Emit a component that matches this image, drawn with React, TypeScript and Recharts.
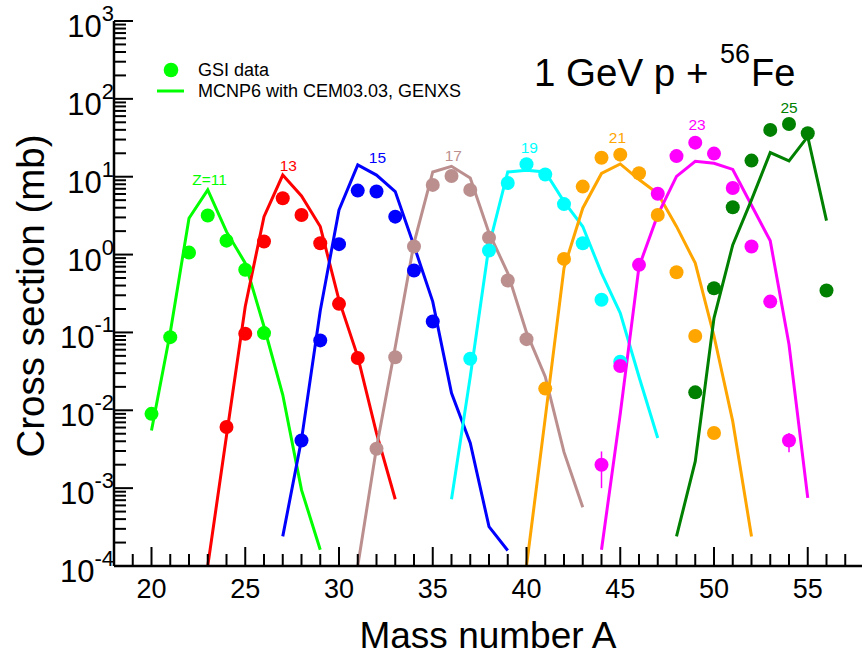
import React from 'react';
import { ComposedChart, Line, Scatter, XAxis, YAxis, ErrorBar } from 'recharts';

type Pt = { A: number; v: number; err?: [number, number] };

const FONT = '"Liberation Sans", Arial, Helvetica, sans-serif';

// Axis ticks
const massTicks = [18, 19, 20, 21, 22, 23, 24, 25, 26, 27, 28, 29, 30, 31, 32, 33, 34, 35, 36, 37, 38, 39, 40, 41, 42, 43, 44, 45, 46, 47, 48, 49, 50, 51, 52, 53, 54, 55, 56, 57, 58];
const massLabels = [20, 25, 30, 35, 40, 45, 50, 55];
const sigmaDecades = [0.0001, 0.001, 0.01, 0.1, 1, 10, 100, 1000];
const sigmaExponents = ['-4', '-3', '-2', '-1', '0', '1', '2', '3'];
const minorSteps = [2, 3, 4, 5, 6, 7, 8, 9];
const sigmaTicks = [
  ...sigmaDecades,
  ...sigmaDecades.slice(0, -1).flatMap((d) => minorSteps.map((m) => d * m)),
];

// GSI data (dots) and MCNP6 (lines), cross sections in mb
const z11Gsi: Pt[] = [
  { A: 20, v: 0.009 }, { A: 21, v: 0.087 }, { A: 22, v: 1.06 }, { A: 23, v: 3.17 },
  { A: 24, v: 1.51 }, { A: 25, v: 0.637 }, { A: 26, v: 0.098 },
];
const z11Mcnp: Pt[] = [
  { A: 20, v: 0.0055 }, { A: 21, v: 0.1 }, { A: 22, v: 2.93 }, { A: 23, v: 6.77 },
  { A: 24, v: 1.97 }, { A: 25, v: 0.776 }, { A: 26, v: 0.119 }, { A: 27, v: 0.0158 },
  { A: 28, v: 0.00095 }, { A: 29, v: 0.000162 },
];
const z13Gsi: Pt[] = [
  { A: 24, v: 0.0061 }, { A: 25, v: 0.096 }, { A: 26, v: 1.47 }, { A: 27, v: 5.3 },
  { A: 28, v: 3.23 }, { A: 29, v: 1.4 }, { A: 30, v: 0.233 }, { A: 31, v: 0.047 },
];
const z13Mcnp: Pt[] = [
  { A: 23, v: 0.0001 }, { A: 24, v: 0.0047 }, { A: 25, v: 0.215 }, { A: 26, v: 3.07 },
  { A: 27, v: 10.5 }, { A: 28, v: 5.67 }, { A: 29, v: 2.29 }, { A: 30, v: 0.26 },
  { A: 31, v: 0.049 }, { A: 32, v: 0.0051 }, { A: 33, v: 0.00072 },
];
const z15Gsi: Pt[] = [
  { A: 28, v: 0.0041 }, { A: 29, v: 0.079 }, { A: 30, v: 1.36 }, { A: 31, v: 6.63 },
  { A: 32, v: 6.45 }, { A: 33, v: 3.07 }, { A: 34, v: 0.624 }, { A: 35, v: 0.138 },
];
const z15Mcnp: Pt[] = [
  { A: 27, v: 0.00024 }, { A: 28, v: 0.0042 }, { A: 29, v: 0.19 }, { A: 30, v: 3.75 },
  { A: 31, v: 14.2 }, { A: 32, v: 10.5 }, { A: 33, v: 6.45 }, { A: 34, v: 1.3 },
  { A: 35, v: 0.249 }, { A: 36, v: 0.0166 }, { A: 37, v: 0.0038 }, { A: 38, v: 0.00032 },
  { A: 39, v: 0.000158 },
];
const z17Gsi: Pt[] = [
  { A: 32, v: 0.0032 }, { A: 33, v: 0.048 }, { A: 34, v: 1.27 }, { A: 35, v: 7.85 },
  { A: 36, v: 10.2 }, { A: 37, v: 6.77 }, { A: 38, v: 1.65 }, { A: 39, v: 0.464 },
  { A: 40, v: 0.082 },
];
const z17Mcnp: Pt[] = [
  { A: 31, v: 0.0001 }, { A: 32, v: 0.0033 }, { A: 33, v: 0.065 }, { A: 34, v: 1.4 },
  { A: 35, v: 11.5 }, { A: 36, v: 13.6 }, { A: 37, v: 9.6 }, { A: 38, v: 1.9 },
  { A: 39, v: 0.58 }, { A: 40, v: 0.1 }, { A: 41, v: 0.027 }, { A: 42, v: 0.0029 },
  { A: 43, v: 0.00057 },
];
const z19Gsi: Pt[] = [
  { A: 37, v: 0.046 }, { A: 38, v: 1.13 }, { A: 39, v: 8.3 }, { A: 40, v: 14.5 },
  { A: 41, v: 10.7 }, { A: 42, v: 4.45 }, { A: 43, v: 1.4 }, { A: 44, v: 0.263 },
  { A: 45, v: 0.042 },
];
const z19Mcnp: Pt[] = [
  { A: 36, v: 0.00072 }, { A: 37, v: 0.027 }, { A: 38, v: 1.3 }, { A: 39, v: 11.5 },
  { A: 40, v: 12.1 }, { A: 41, v: 11.5 }, { A: 42, v: 4.8 }, { A: 43, v: 2.29 },
  { A: 44, v: 0.577 }, { A: 45, v: 0.177 }, { A: 46, v: 0.027 }, { A: 47, v: 0.0044 },
];
const z21Gsi: Pt[] = [
  { A: 41, v: 0.019 }, { A: 42, v: 0.88 }, { A: 43, v: 7.46 }, { A: 44, v: 17.5 },
  { A: 45, v: 19.2 }, { A: 46, v: 11.1 }, { A: 47, v: 3.23 }, { A: 48, v: 0.594 },
  { A: 49, v: 0.09 }, { A: 50, v: 0.0051 },
];
const z21Mcnp: Pt[] = [
  { A: 40, v: 0.0001 }, { A: 41, v: 0.008 }, { A: 42, v: 0.67 }, { A: 43, v: 3.94 },
  { A: 44, v: 11.0 }, { A: 45, v: 14.6 }, { A: 46, v: 9.2 }, { A: 47, v: 6.1 },
  { A: 48, v: 2.3 }, { A: 49, v: 0.776 }, { A: 50, v: 0.09 }, { A: 51, v: 0.0072 },
  { A: 52, v: 0.00024 },
];
const z23Gsi: Pt[] = [
  { A: 44, v: 0.002, err: [0.001, 0.00096] }, { A: 45, v: 0.037, err: [0, 0] },
  { A: 46, v: 0.738, err: [0, 0] }, { A: 47, v: 6.05, err: [0, 0] },
  { A: 48, v: 18.4, err: [0, 0] }, { A: 49, v: 27.4, err: [0, 0] },
  { A: 50, v: 19.8, err: [0, 0] }, { A: 51, v: 7.15, err: [0, 0] },
  { A: 52, v: 1.27, err: [0, 0] }, { A: 53, v: 0.249, err: [0, 0] },
  { A: 54, v: 0.0041, err: [0.0012, 0.001] },
];
const z23Mcnp: Pt[] = [
  { A: 44, v: 0.000162 }, { A: 45, v: 0.009 }, { A: 46, v: 0.7 }, { A: 47, v: 3.23 },
  { A: 48, v: 10.1 }, { A: 49, v: 15.8 }, { A: 50, v: 14.9 }, { A: 51, v: 12.4 },
  { A: 52, v: 4.3 }, { A: 53, v: 1.5 }, { A: 54, v: 0.07 }, { A: 55, v: 0.00075 },
];
const z25Gsi: Pt[] = [
  { A: 49, v: 0.017 }, { A: 50, v: 0.37 }, { A: 51, v: 4.05 }, { A: 52, v: 16.1 },
  { A: 53, v: 39.9 }, { A: 54, v: 47.6 }, { A: 55, v: 36.2 }, { A: 56, v: 0.345 },
];
const z25Mcnp: Pt[] = [
  { A: 48, v: 0.00024 }, { A: 49, v: 0.0022 }, { A: 50, v: 0.153 }, { A: 51, v: 1.33 },
  { A: 52, v: 5.03 }, { A: 53, v: 20.4 }, { A: 54, v: 16 }, { A: 55, v: 32.7 },
  { A: 56, v: 2.73 },
];

const zColors = ['#00ff00', '#ff0000', '#0000ff', '#bc8f8f', '#00ffff', '#ffa500', '#ff00ff', '#008000'];
const gsiSets = [z11Gsi, z13Gsi, z15Gsi, z17Gsi, z19Gsi, z21Gsi, z23Gsi, z25Gsi];
const mcnpSets = [z11Mcnp, z13Mcnp, z15Mcnp, z17Mcnp, z19Mcnp, z21Mcnp, z23Mcnp, z25Mcnp];

// Z labels (text, anchor position in data units: A, sigma at baseline)
const zLabelText = ['Z=11', '13', '15', '17', '19', '21', '23', '25'];
const zLabelA = [23.1, 27.3, 32.05, 36.1, 40.15, 44.85, 49.1, 54.0];
const zLabelSigma = [7.85, 11.9, 15.0, 16.0, 20.2, 27.2, 39.9, 65.9];
const zLabels = zLabelText.map((t, i) => ({ A: zLabelA[i], v: zLabelSigma[i], text: t, color: zColors[i] }));

const isDecade = (v: number) => Math.abs(Math.log10(v) - Math.round(Math.log10(v))) < 1e-6;

function BottomTick(props: any) {
  const { x, y, payload } = props;
  const v = payload.value;
  const major = v % 5 === 0;
  return (
    <g>
      <line x1={x} y1={y} x2={x} y2={y - (major ? 19 : 12)} stroke="#000" strokeWidth={2} />
      {major && massLabels.includes(v) && (
        <text x={x} y={y + 32} textAnchor="middle" fontSize={27} fontFamily={FONT} fill="#000">
          {v}
        </text>
      )}
    </g>
  );
}

function TopTick(props: any) {
  const { x, y, payload } = props;
  const major = payload.value % 5 === 0;
  return <line x1={x} y1={y} x2={x} y2={y + (major ? 19 : 12)} stroke="#000" strokeWidth={2} />;
}

function LeftTick(props: any) {
  const { x, y, payload } = props;
  const v = payload.value;
  const dec = isDecade(v);
  const idx = sigmaDecades.findIndex((d) => Math.abs(Math.log10(d) - Math.log10(v)) < 1e-6);
  return (
    <g>
      <line x1={x} y1={y} x2={x + (dec ? 19 : 12)} y2={y} stroke="#000" strokeWidth={2} />
      {dec && idx >= 0 && (
        <text x={x} y={y + 16} textAnchor="end" fontSize={31} fontFamily={FONT} fill="#000">
          10
          <tspan dy={-16} fontSize={22}>
            {sigmaExponents[idx]}
          </tspan>
        </text>
      )}
    </g>
  );
}

function RightTick(props: any) {
  const { x, y, payload } = props;
  const dec = isDecade(payload.value);
  return <line x1={x} y1={y} x2={x - (dec ? 19 : 12)} y2={y} stroke="#000" strokeWidth={2} />;
}

const dotShape = (color: string) => (p: any) => <circle cx={p.cx} cy={p.cy} r={7} fill={color} />;

const labelShape = (p: any) => (
  <text x={p.cx} y={p.cy} textAnchor="middle" fontSize={15.5} fontFamily={FONT} fill={p.payload.color}>
    {p.payload.text}
  </text>
);

export default function App() {
  return (
    <div style={{ position: 'absolute', left: 0, top: 0, width: 862, height: 657, overflow: 'hidden', background: '#fff' }}>
      <ComposedChart width={866} height={657} margin={{ top: 21, right: 2, bottom: 0, left: 0 }}>
        <XAxis
          xAxisId="bottom"
          type="number"
          dataKey="A"
          domain={[18, 58]}
          ticks={massTicks}
          interval={0}
          allowDataOverflow
          height={91}
          tickSize={0}
          tickMargin={0}
          tick={BottomTick}
          axisLine={{ stroke: '#000', strokeWidth: 2.5 }}
          tickLine={false}
        />
        <XAxis
          xAxisId="top"
          orientation="top"
          type="number"
          dataKey="A"
          domain={[18, 58]}
          ticks={massTicks}
          interval={0}
          allowDataOverflow
          height={0}
          tickSize={0}
          tickMargin={0}
          tick={TopTick}
          axisLine={{ stroke: '#000', strokeWidth: 2.5 }}
          tickLine={false}
        />
        <YAxis
          yAxisId="left"
          type="number"
          dataKey="v"
          scale="log"
          domain={[0.0001, 1000]}
          ticks={sigmaTicks}
          interval={0}
          allowDataOverflow
          width={114}
          tickSize={0}
          tickMargin={0}
          tick={LeftTick}
          axisLine={{ stroke: '#000', strokeWidth: 2.5 }}
          tickLine={false}
        />
        <YAxis
          yAxisId="right"
          orientation="right"
          type="number"
          dataKey="v"
          scale="log"
          domain={[0.0001, 1000]}
          ticks={sigmaTicks}
          interval={0}
          allowDataOverflow
          width={0}
          tickSize={0}
          tickMargin={0}
          tick={RightTick}
          axisLine={{ stroke: '#000', strokeWidth: 2.5 }}
          tickLine={false}
        />
        {zColors.flatMap((color, i) => [
          <Line
            key={`l${i}`}
            xAxisId="bottom"
            yAxisId="left"
            data={mcnpSets[i]}
            dataKey="v"
            type="linear"
            stroke={color}
            strokeWidth={3}
            dot={false}
            activeDot={false}
            isAnimationActive={false}
          />,
          <Scatter
            key={`s${i}`}
            xAxisId="bottom"
            yAxisId="left"
            data={gsiSets[i]}
            dataKey="v"
            fill={color}
            shape={dotShape(color)}
            isAnimationActive={false}
          >
            {i === 6 && <ErrorBar dataKey="err" direction="y" width={0} stroke={color} strokeWidth={1.5} />}
          </Scatter>,
        ])}
        <Scatter
          xAxisId="bottom"
          yAxisId="left"
          data={zLabels}
          dataKey="v"
          shape={labelShape}
          isAnimationActive={false}
        />
      </ComposedChart>
      <svg
        width={862}
        height={657}
        style={{ position: 'absolute', left: 0, top: 0, pointerEvents: 'none' }}
        fontFamily={FONT}
      >
        <circle cx={171} cy={70} r={7.3} fill="#00ff00" />
        <text x={198} y={76} fontSize={18} fill="#000">GSI data</text>
        <line x1={157} y1={91} x2={184} y2={91} stroke="#00ff00" strokeWidth={3} />
        <text x={198} y={96.5} fontSize={18} fill="#000">MCNP6 with CEM03.03, GENXS</text>
        <text x={534} y={86} fontSize={38.5} fill="#000">1 GeV p +</text>
        <text x={720} y={63} fontSize={27} fill="#000">56</text>
        <text x={751} y={86} fontSize={38} fill="#000">Fe</text>
        <text x={44} y={296} fontSize={38.5} fill="#000" textAnchor="middle" transform="rotate(-90 44 296)">
          Cross section (mb)
        </text>
        <text x={488} y={648} fontSize={37} fill="#000" textAnchor="middle">Mass number A</text>
      </svg>
    </div>
  );
}
